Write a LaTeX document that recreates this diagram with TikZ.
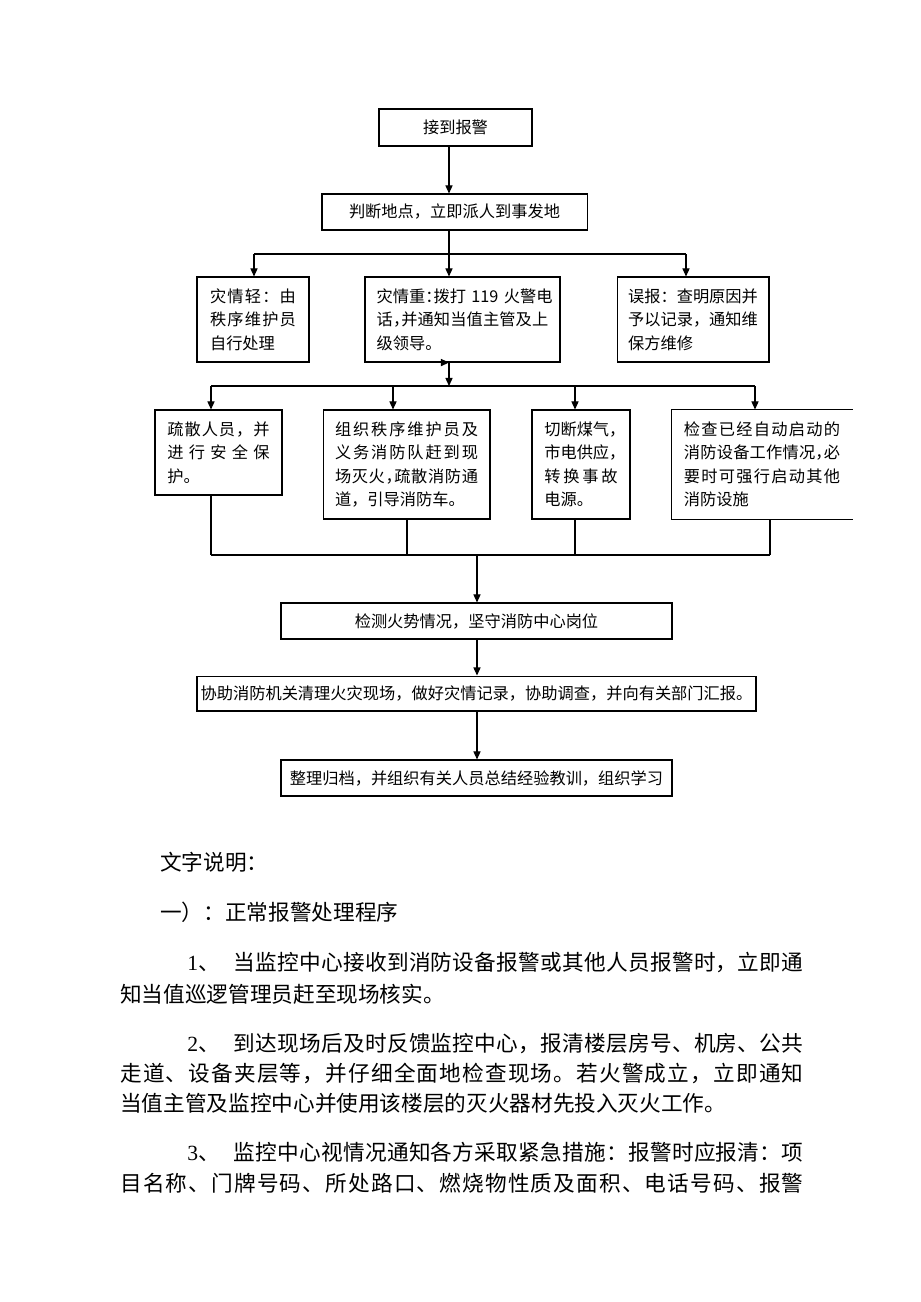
\documentclass[tikz,border=0pt]{standalone}
\usepackage{fontspec}
\setmainfont{Liberation Serif}
\newfontfamily\cjk{Noto Sans CJK SC}
\usetikzlibrary{arrows.meta,calc}
% spread the characters of a line over a given width
\def\sprEnd{\sprEnd}
\def\spread#1{\sprA#1\sprEnd}
\def\sprA#1{\ifx#1\sprEnd\else#1\expandafter\sprB\fi}
\def\sprB#1{\ifx#1\sprEnd\else\hfil#1\expandafter\sprB\fi}
\newcommand\jl[1]{\makebox[\hsize][s]{\spread{#1}}}
\newcommand\fl[2]{\makebox[#1][s]{\spread{#2}}}
\newcommand\hc[1]{\makebox[.5em][l]{#1}}
\newcommand\hcomma{\hc{，}}
\newcommand\hcolon{\hc{：}}
\newcommand\callno{119}
\newcommand\gap{\hspace*{.6em}}
\newcommand\numone{{\rmfamily 1}}
\newcommand\numtwo{{\rmfamily 2}}
\newcommand\numthree{{\rmfamily 3}}

\tikzset{
  box/.style={draw,line width=.7pt,inner sep=0pt,align=center,
    font=\cjk\fontsize{10.5}{15.2}\selectfont},
  para/.style={box,align=left},
  flow/.style={line width=.7pt,-{Triangle[length=5.2pt,width=4.6pt]}},
  link/.style={line width=.7pt},
  note/.style={anchor=base west,inner sep=0pt,font=\cjk\fontsize{14}{14}\selectfont},
}

\begin{document}
\begin{tikzpicture}[x=0.647pt,y=-0.647pt]
\useasboundingbox (0,0) rectangle (920,1302);

      % flow boxes
      \node[box,minimum width=99pt,minimum height=23.9pt] (recv) at (455.5,127.5) {接到报警};
      \node[box,minimum width=171.5pt,minimum height=23.3pt] (judge) at (454.5,212) {判断地点，立即派人到事发地};

      \node[para,minimum width=72.5pt,minimum height=55pt,text width=55.6pt] (light) at (253,319.5)
        {\jl{灾情轻：由}\\\jl{秩序维护员}\\自行处理};
      \node[para,minimum width=126.2pt,minimum height=55pt,text width=111pt] (heavy) at (462.5,319.5)
        {\jl{灾情重\hcolon 拨打\ \callno\ 火警电}\\\jl{话\hcomma 并通知当值主管及上}\\级领导。};
      \node[para,minimum width=98.3pt,minimum height=55pt,text width=84pt] (false) at (693,319.5)
        {\jl{误报：查明原因并}\\\jl{予以记录，通知维}\\保方维修};

      \node[para,minimum width=82.2pt,minimum height=55pt,text width=66pt] (evac) at (218.5,452.5)
        {\jl{疏散人员，并}\\\jl{进行安全保}\\护。};
      \node[para,minimum width=108pt,minimum height=70.5pt,text width=92.5pt] (organize) at (406.5,464.5)
        {\jl{组织秩序维护员及}\\\jl{义务消防队赶到现}\\\jl{场灭火\hcomma 疏散消防通}\\道，引导消防车。};
      \node[para,minimum width=63.4pt,minimum height=70.5pt,text width=47.5pt] (cut) at (581,464.5)
        {切断煤气\hcomma\\市电供应\hcomma\\\jl{转换事故}\\电源。};
      \node[para,draw=none,minimum width=116.5pt,minimum height=70.5pt,text width=101pt] (check) at (762,464.5)
        {\jl{检查已经自动启动的}\\\jl{消防设备工作情况\hcomma 必}\\\jl{要时可强行启动其他}\\消防设施};
      \draw[link] (check.north east) -- (check.north west) -- (check.south west) -- (check.south east);

      \node[box,minimum width=253pt,minimum height=23.3pt] (monitor) at (476.5,621) {检测火势情况，坚守消防中心岗位};
      \node[box,minimum width=361.7pt,minimum height=22.6pt] (assist) at (476.5,693.5) {协助消防机关清理火灾现场，做好灾情记录，协助调查，并向有关部门汇报。};
      \node[box,minimum width=253pt,minimum height=23.3pt] (archive) at (476.5,778) {整理归档，并组织有关人员总结经验教训，组织学习};

      % guide points
      \coordinate (mainx) at (449,0);
      \coordinate (lx) at (254,0);
      \coordinate (fx) at (686,0);
      \coordinate (p1) at (211,0);
      \coordinate (p2) at (393,0);
      \coordinate (p3) at (575,0);
      \coordinate (p4) at (755,0);
      \coordinate (q2) at (407,0);
      \coordinate (q4) at (770,0);
      \coordinate (lowx) at (477,0);
      \coordinate (bus1) at (0,254);
      \coordinate (bus2) at (0,386);
      \coordinate (bus3) at (0,555);

      % connectors
      \draw[flow] (recv.south -| mainx) -- (judge.north -| mainx);
      \draw[link] (judge.south -| mainx) -- (bus1 -| mainx);
      \draw[link] (bus1 -| lx) -- (bus1 -| fx);
      \draw[flow] (bus1 -| lx) -- (light.north -| lx);
      \draw[flow] (bus1 -| mainx) -- (heavy.north -| mainx);
      \draw[flow] (bus1 -| fx) -- (false.north -| fx);

      \draw[flow] ($(heavy.south -| mainx)+(-9,0)$) -- (heavy.south -| mainx);
      \draw[flow] (heavy.south -| mainx) -- (bus2 -| mainx);
      \draw[link] (bus2 -| p1) -- (bus2 -| p4);
      \draw[flow] (bus2 -| p1) -- (evac.north -| p1);
      \draw[flow] (bus2 -| p2) -- (organize.north -| p2);
      \draw[flow] (bus2 -| p3) -- (cut.north -| p3);
      \draw[flow] (bus2 -| p4) -- (check.north -| p4);

      \draw[link] (evac.south -| p1) -- (bus3 -| p1);
      \draw[link] (organize.south -| q2) -- (bus3 -| q2);
      \draw[link] (cut.south -| p3) -- (bus3 -| p3);
      \draw[link] (check.south -| q4) -- (bus3 -| q4);
      \draw[link] (bus3 -| p1) -- (bus3 -| q4);
      \draw[flow] (bus3 -| lowx) -- (monitor.north -| lowx);
      \draw[flow] (monitor.south -| lowx) -- (assist.north -| lowx);
      \draw[flow] (assist.south -| lowx) -- (archive.north -| lowx);

      % text below
      \node[note] (head) at (160,870) {文字说明：};
      \node[note] (sect) at (160,920) {一）：正常报警处理程序};
      \node[note] (l1) at (187,970) {\fl{398.6pt}{\numone、\gap 当监控中心接收到消防设备报警或其他人员报警时，立即通}};
      \node[note] (l2) at (120,1002) {知当值巡逻管理员赶至现场核实。};
      \node[note] (l3) at (187,1051) {\fl{398.6pt}{\numtwo、\gap 到达现场后及时反馈监控中心，报清楼层房号、机房、公共}};
      \node[note] (l4) at (120,1081) {\fl{442pt}{走道、设备夹层等，并仔细全面地检查现场。若火警成立，立即通知}};
      \node[note] (l5) at (120,1111) {当值主管及监控中心并使用该楼层的灭火器材先投入灭火工作。};
      \node[note] (l6) at (187,1160) {\fl{398.6pt}{\numthree、\gap 监控中心视情况通知各方采取紧急措施：报警时应报清：项}};
      \node[note] (l7) at (120,1191) {\fl{442pt}{目名称、门牌号码、所处路口、燃烧物性质及面积、电话号码、报警}};

\end{tikzpicture}
\end{document}
